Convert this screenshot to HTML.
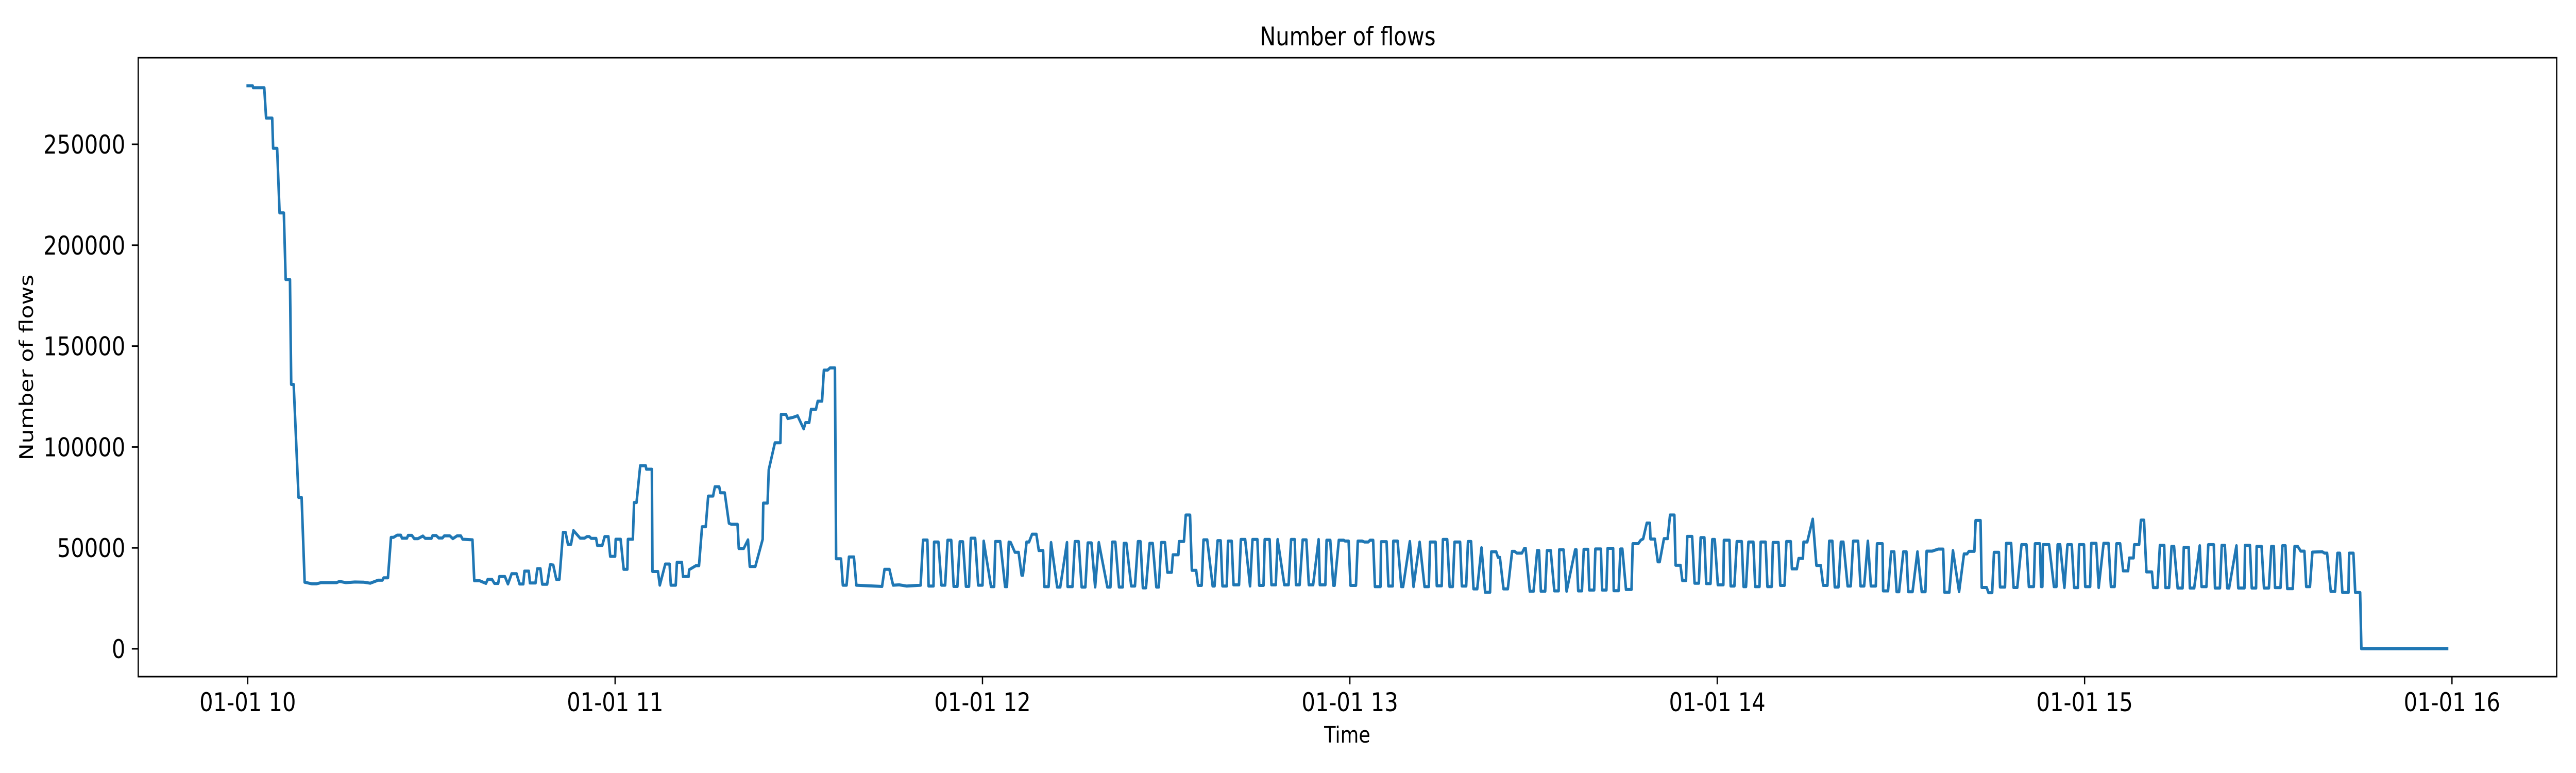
<!DOCTYPE html>
<html>
<head>
<meta charset="utf-8">
<title>Number of flows</title>
<style>
  html, body { margin: 0; padding: 0; background: #ffffff; width: 100%; height: 100%; overflow: hidden; }
  #chart { display: block; width: 100vw; height: 100vh; }
  svg text { font-family: "DejaVu Sans", "Liberation Sans", sans-serif; fill: #000; }
</style>
</head>
<body>
<svg id="chart" xmlns="http://www.w3.org/2000/svg" viewBox="0 0 6000 1500" preserveAspectRatio="none">
  <rect x="0" y="0" width="6000" height="1500" fill="#ffffff"></rect>
  <text x="3139" y="88" font-size="50" text-anchor="middle">Number of flows</text>
  <text x="3138" y="1441" font-size="44" text-anchor="middle">Time</text>
  <text x="0" y="0" font-size="44" text-anchor="middle" transform="translate(77,713) rotate(-90)">Number of flows</text>
  <g id="yticks"></g>
  <g id="xticks"></g>
  <g id="plot"></g>
  <rect x="322" y="112" width="5633" height="1201" fill="none" stroke="#000" stroke-width="3"></rect>
</svg>
<script>
// ---- chart data (minutes after 01-01 10:00, number of flows) ----
const tickHours = [0, 60, 120, 180, 240, 300, 360];
const tickLabels = ["01-01 10", "01-01 11", "01-01 12", "01-01 13", "01-01 14", "01-01 15", "01-01 16"];
const yTicks = [0, 50000, 100000, 150000, 200000, 250000];
const yTickLabels = ["0", "50000", "100000", "150000", "200000", "250000"];

const minutes = [
0,0.8,0.9,2.7,3.0,4.0,4.15,4.8,5.2,5.9,
6.2,6.9,7.1,7.5,8.3,8.8,9.3,10.5,11.2,12,
14.5,15,16,17.5,19,20,21.3,22,22.2,22.9,
23.4,23.8,24.4,25.0,25.2,26.0,26.2,26.8,27.2,27.8,
28.6,29.0,30.0,30.2,30.8,31.2,31.8,32.1,33.0,33.5,
34.2,34.8,35.1,36.7,37.0,37.9,38.9,39.2,39.9,40.3,
40.9,41.1,42.0,42.5,43.1,43.9,44.4,45.0,45.2,45.9,
46.1,47.0,47.3,47.8,48.1,48.9,49.4,49.9,50.4,50.9,
51.5,51.9,52.3,52.8,53.2,54.3,55.0,55.4,55.8,56.1,
56.9,57.1,57.9,58.3,58.9,59.2,60.0,60.1,60.9,61.4,
62.0,62.1,62.9,63.1,63.5,64.1,65.0,65.1,66.0,66.1,
67.0,67.3,68.2,68.9,69.1,69.9,70.1,70.9,71.1,72.0,
72.1,73.2,73.7,74.2,74.8,75.2,76.0,76.3,77.0,77.2,
77.9,78.6,79.0,80.0,80.2,81.0,81.7,82.0,82.9,84.1,
84.2,84.9,85.1,86.1,87.0,87.1,87.9,88.2,89.1,89.8,
90.8,91.1,91.7,92.0,92.8,93.1,93.8,94.1,94.7,95.1,
95.9,96.1,96.9,97.2,97.8,98.2,99.0,99.4,103.6,104.0,
104.8,105.4,106.4,107.6,109.9,110.3,111.0,111.2,112.0,112.1,
112.8,113.3,113.9,114.3,114.9,115.3,115.9,116.3,116.8,117.3,
117.8,118.1,118.8,119.3,120.0,
120.2,121.4,121.9,122.1,122.9,123.7,124.0,124.3,124.6,125.3,
125.9,126.4,126.6,127.2,127.6,128.1,128.8,129.2,129.9,130.1,
130.8,131.2,132.2,132.7,133.8,133.9,134.7,135.1,135.7,136.2,
136.8,137.2,137.8,138.4,139.0,140.4,140.9,141.2,141.7,142.3,
142.9,143.1,143.5,144.3,144.9,145.4,145.8,146.2,146.7,147.3,
147.8,148.4,148.8,149.2,149.8,150.2,150.9,151.1,152.0,152.1,
152.9,153.2,153.9,154.2,154.9,155.2,155.8,156.1,156.7,157.6,
157.9,158.4,158.9,159.2,159.9,160.1,160.7,161.0,161.9,162.2,
162.9,163.7,164.1,164.9,165.2,165.9,166.1,166.9,167.2,167.9,
168.2,169.3,170.0,170.4,171.0,171.2,171.8,172.3,172.9,173.3,
174.0,174.9,175.1,176.0,176.2,176.8,
177.3,177.5,178.2,179.0,179.2,179.8,180.1,181.0,181.3,182.0,
182.4,183.0,183.3,183.8,184.1,185.0,185.1,186.0,186.3,187.0,
187.1,187.8,188.4,188.7,189.8,190.4,191.4,192.2,192.9,193.1,
194.0,194.2,195.0,195.2,195.9,196.3,196.8,197.1,198.0,198.3,
199.0,199.3,199.8,200.2,200.8,201.5,202.1,202.9,203.1,203.9,
204.2,204.5,205.1,205.8,206.5,206.9,207.3,208.1,208.5,208.7,
209.4,210.0,210.6,210.9,211.2,211.9,212.2,212.8,213.4,214.1,
214.2,214.9,215.4,216.8,217.0,217.3,217.9,218.2,218.9,219.1,
219.9,220.1,221.0,221.2,221.9,222.1,223.0,223.1,223.9,224.2,
224.5,225.1,226.0,226.2,227.1,227.5,227.9,228.5,229.0,229.1,
229.8,230.3,230.6,231.3,231.9,232.3,233.0,
233.2,234.0,234.3,234.9,235.1,235.9,236.3,237.0,237.3,237.9,
238.2,238.9,239.2,239.6,240.1,241.0,241.1,242.0,242.2,242.8,
243.2,244.0,244.3,244.7,245.1,245.9,246.2,246.9,247.1,247.9,
248.2,248.9,249.1,250.0,250.3,251.0,251.3,252.0,252.2,253.0,
253.3,254.0,254.1,254.7,255.6,256.2,256.9,257.3,258.0,258.3,
258.8,259.2,259.8,260.2,260.6,261.3,261.8,262.2,263.0,263.4,
264.0,264.6,265.1,265.9,266.1,267.0,267.1,267.9,268.4,268.9,
269.3,269.7,270.4,270.9,271.2,271.9,272.7,273.4,274.0,274.2,
275.1,276.1,276.9,277.1,277.9,278.5,279.5,280.3,280.8,281.1,
282.0,282.2,283.0,283.2,284.0,284.3,284.9,285.2,286.0,286.2,
287.0,287.2,288.0,288.4,289.0,
289.7,290.5,290.9,291.7,291.9,292.7,292.9,293.1,293.2,294.2,
295.0,295.4,295.6,296.0,296.7,297.2,297.9,298.3,298.9,299.1,
299.9,300.1,300.9,301.1,301.9,302.3,303.1,303.9,304.3,304.9,
305.2,305.8,306.3,307.1,307.3,308.0,308.1,308.9,309.2,309.7,
310.1,311.0,311.2,311.9,312.3,313.0,313.2,313.8,314.2,314.6,
315.2,316.0,316.2,317.0,317.2,317.9,318.8,319.1,319.9,320.2,
321.1,321.3,322.1,322.4,322.9,323.3,323.6,324.8,325.1,326.1,
326.2,327.0,327.3,328.0,328.1,328.9,329.3,330.1,330.5,330.9,
331.1,332.0,332.3,332.8,333.1,334.0,334.3,334.8,335.3,335.9,
336.2,336.8,337.2,338.8,339.2,339.6,340.2,340.9,341.3,341.7,
342.1,343.1,343.2,343.9,344.2,345.0,345.2,359.2
];

const flows = [
279000,279000,278000,278000,263000,263000,248000,248000,216000,216000,
183000,183000,131000,131000,75000,75000,33000,32200,32200,32800,
32800,33400,32800,33100,33000,32500,34000,34000,35200,35200,
55200,55200,56300,56300,54800,54800,56200,56200,54600,54600,
55900,54700,54700,56100,56100,54900,54900,56000,56000,54600,
56000,56000,54300,54000,33700,33700,32400,34400,34400,32400,
32400,35800,35800,32100,37200,37200,32100,32100,38500,38500,
32600,32600,39700,39700,32000,32000,41700,41500,34400,34400,
57700,57700,51800,51800,58600,54800,54800,55600,55600,54700,
54700,51200,51200,55600,55600,45800,45800,54300,54300,39400,
39400,54300,54300,72500,72500,90700,90700,89000,89000,38300,
38300,31500,42000,42000,31500,31500,42900,42900,35800,35800,
39200,41200,41200,60500,60500,75700,75700,80300,80300,77300,
77300,62200,61700,61700,49700,49700,54000,40800,40800,54300,
72200,72200,88700,102100,102100,116200,116200,114100,114700,115500,
109000,112100,112100,118700,118700,122700,122700,138100,138100,139200,
139200,44600,44600,31500,31500,45500,45500,31500,30900,39400,
39400,31500,31700,31100,31500,53900,53900,31100,31100,52900,
52900,31500,31500,53800,53800,30900,30900,53100,53100,30900,
30900,54800,54800,31500,31500,
53400,30800,30800,53200,53200,30800,30800,52900,52700,47800,
47800,36500,36500,52900,52900,56800,56800,48700,48700,30800,
30800,52700,30600,30600,52700,30800,30800,53200,53200,30600,
30600,52500,52500,30600,52700,30600,30600,52900,52900,30600,
30600,52300,52300,31100,31100,53200,53200,30200,30200,52300,
52300,30600,30600,52700,52700,37900,37900,46600,46600,53200,
53200,66300,66300,38900,38900,31400,31400,54000,54000,31100,
31100,53600,53600,31100,31100,53400,53400,31700,31700,54200,
54200,31100,54200,54200,31400,31400,54200,54200,31700,31700,
54200,31700,31700,54200,54200,31700,31700,54000,54000,31700,
31700,54200,31700,31700,53800,53800,
31400,31400,53800,53800,53400,53400,31400,31400,53400,53400,
52900,52900,53800,53800,30800,30800,53100,53100,31100,31100,
53400,53400,30800,30800,53200,30800,52900,30800,30800,52900,
52900,31200,31200,54200,54200,30800,30800,52900,52900,31100,
31100,53200,53200,29700,29700,50100,28000,28000,48100,48100,
45300,45300,29700,29700,48300,48300,47400,47400,49800,49800,
28500,28500,48700,48700,28500,28500,48700,48700,28700,28700,
49100,49100,28500,49100,49100,28700,28700,49300,49300,29100,
29100,49500,49500,29100,29100,49800,49800,28800,28800,49500,
49500,29400,29400,52100,52100,53800,54500,62300,62300,54400,
54400,43100,43100,54600,54600,66300,66300,
41400,41400,33800,33800,55700,55700,32500,32500,55100,55100,
32300,32300,54200,54200,31700,31700,53800,53800,31100,31100,
53200,53200,30800,30800,52900,52900,30800,30800,52900,52900,
30800,30800,52700,52700,31400,31400,53200,53200,39600,39600,
44800,44800,52900,52900,64300,41300,41300,31400,31400,53400,
53400,30600,30600,52900,52900,31100,31100,53400,53400,31100,
31100,53400,31100,31100,52100,52100,28700,28700,48100,48100,
28300,28300,48100,48100,28300,28300,48100,28300,28300,48400,
48400,49400,49400,28000,28000,48700,28300,47000,47000,48300,
48300,63600,63600,30400,30400,27800,27800,47800,47800,30600,
30600,52300,52300,30400,30400,
51600,51600,30800,30800,52100,52100,30800,30800,51600,51600,
30800,30800,51600,51600,30300,51600,51600,30300,30300,51600,
51600,30800,30800,52300,52300,30300,52300,52300,30800,30800,
52100,52100,38600,38600,45000,45000,51600,51600,63800,63800,
38100,38100,30300,30300,51300,51300,30300,30300,50800,50800,
30100,30100,50300,50300,30100,30100,51100,30800,30800,51600,
51600,30100,30100,51300,51300,30100,30100,51100,30100,30100,
51300,51300,30100,30100,50800,50800,30100,30100,50800,50800,
30300,30300,51100,51100,29800,29800,50800,50800,48400,48400,
30800,30800,47900,48100,47400,47400,28400,28400,47400,47400,
27900,27900,47400,47400,27900,27900,0,0
];

// ---- axis functions ----
const SVGNS = "http://www.w3.org/2000/svg";
const plotLeft = 322, plotRight = 5955, plotTop = 112, plotBottom = 1313;
const xMin = -17.88, xMax = 377.1;       // minutes
const yMin = -13790, yMax = 292900;      // flows
function xScale(m) { return plotLeft + (m - xMin) / (xMax - xMin) * (plotRight - plotLeft); }
function yScale(v) { return plotBottom - (v - yMin) / (yMax - yMin) * (plotBottom - plotTop); }

const yG = document.getElementById('yticks');
yTicks.forEach(function (v, i) {
  const y = yScale(v);
  const t = document.createElementNS(SVGNS, 'line');
  t.setAttribute('x1', plotLeft - 15); t.setAttribute('x2', plotLeft);
  t.setAttribute('y1', y); t.setAttribute('y2', y);
  t.setAttribute('stroke', '#000'); t.setAttribute('stroke-width', '3');
  
  
  yG.appendChild(t);
  const lb = document.createElementNS(SVGNS, 'text');
  lb.setAttribute('x', plotLeft - 30); lb.setAttribute('y', y + 18);
  lb.setAttribute('font-size', '50'); lb.setAttribute('text-anchor', 'end');
  lb.textContent = yTickLabels[i];
  
  
  yG.appendChild(lb);
});

const xG = document.getElementById('xticks');
tickHours.forEach(function (m, i) {
  const x = xScale(m);
  const t = document.createElementNS(SVGNS, 'line');
  t.setAttribute('x1', x); t.setAttribute('x2', x);
  t.setAttribute('y1', plotBottom); t.setAttribute('y2', plotBottom + 15);
  t.setAttribute('stroke', '#000'); t.setAttribute('stroke-width', '3');
  
  
  xG.appendChild(t);
  const lb = document.createElementNS(SVGNS, 'text');
  lb.setAttribute('x', x); lb.setAttribute('y', 1380);
  lb.setAttribute('font-size', '50'); lb.setAttribute('text-anchor', 'middle');
  lb.textContent = tickLabels[i];
  
  
  xG.appendChild(lb);
});

const n = Math.min(minutes.length, flows.length);
let d = '';
for (let i = 0; i < n; i++) {
  d += (i === 0 ? 'M' : 'L') + xScale(minutes[i]).toFixed(1) + ',' + yScale(flows[i]).toFixed(1);
}
const line = document.createElementNS(SVGNS, 'path');
line.setAttribute('d', d);
line.setAttribute('fill', 'none');
line.setAttribute('stroke', '#1f77b4');
line.setAttribute('stroke-width', '6');
line.setAttribute('stroke-linejoin', 'round');
line.setAttribute('stroke-linecap', 'square');


document.getElementById('plot').appendChild(line);
</script>
</body>
</html>
